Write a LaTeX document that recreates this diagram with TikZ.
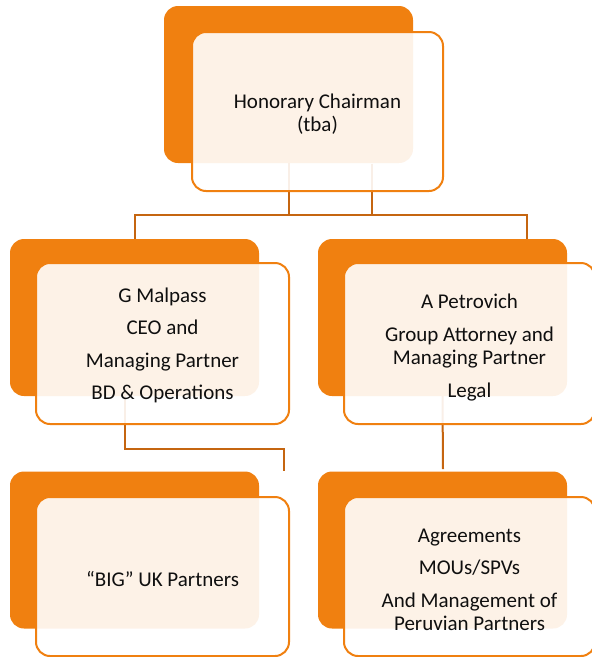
\documentclass[tikz,border=0pt]{standalone}
\usepackage{fontspec}
\setmainfont{Carlito}
\definecolor{org}{RGB}{240,128,16}
\definecolor{lnk}{RGB}{197,101,16}
\definecolor{txt}{RGB}{15,15,15}
\begin{document}
\begin{tikzpicture}[x=1pt,y=-1pt,
  back/.style={draw=none, fill=org, rounded corners=14pt, minimum width=249pt, minimum height=157pt, inner sep=0pt},
  front/.style={draw=org, line width=2pt, fill=white, fill opacity=0.9, rounded corners=14pt, minimum width=251pt, minimum height=159pt, inner sep=0pt},
  cardtext/.style={align=center, font=\fontsize{21}{23}\selectfont, text=txt, inner sep=0pt},
  link/.style={draw=lnk, line width=2pt}]
\useasboundingbox (0,0) rectangle (592,657);
% back plates
\node[back] (tO) at (288.5,84.5) {};
\node[back] (lO) at (134.5,317.5) {};
\node[back] (rO) at (442.5,317.5) {};
\node[back] (blO) at (134.5,550) {};
\node[back] (brO) at (442.5,550) {};
% connectors
\coordinate (bus) at (0,215);
\coordinate (br) at (527,215);
\coordinate (rtop) at (527,239);
\coordinate (t2) at (372,163.5);
\coordinate (la) at (125,396);
\coordinate (lb) at (284,449);
\coordinate (rb) at (443,469);
\draw[link] (tO.south) -- (tO.south |- bus);
\draw[link] (t2) -- (t2 |- bus);
\draw[link] (lO.north) |- (br) -- (rtop);
\draw[link] (la) |- (lb) -- (lb |- blO.north);
\draw[link] (rO.south) -- (rb);
% front cards
\node[front] (tI) at (317.5,111.5) {};
\node[front, minimum width=253pt, minimum height=161pt] (lI) at (162.5,343.5) {};
\node[front, minimum height=161pt] (rI) at (469.5,343.5) {};
\node[front, minimum width=253pt] (blI) at (162.5,576.5) {};
\node[front] (brI) at (469.5,576.5) {};
% texts
\node[cardtext] (tT) at ([yshift=-3pt]tI.center) {Honorary Chairman\\(tba)};
\node[cardtext] (lT) at ([yshift=-2pt]lI.center)
  {G Malpass\\[9.5pt]CEO and\\[9.5pt]Managing Partner\\[9.5pt]BD \& Operations};
\node[cardtext] (rT) at ([yshift=-4pt]rI.center)
  {A Petrovich\\[10pt]Group Attorney and\\Managing Partner\\[10pt]Legal};
\node[cardtext] (blT) at ([yshift=-2pt]blI.center) {“BIG” UK Partners};
\node[cardtext] (brT) at ([yshift=-3pt]brI.center)
  {Agreements\\[9.5pt]MOUs/SPVs\\[9.5pt]And Management of\\Peruvian Partners};
\end{tikzpicture}
\end{document}
